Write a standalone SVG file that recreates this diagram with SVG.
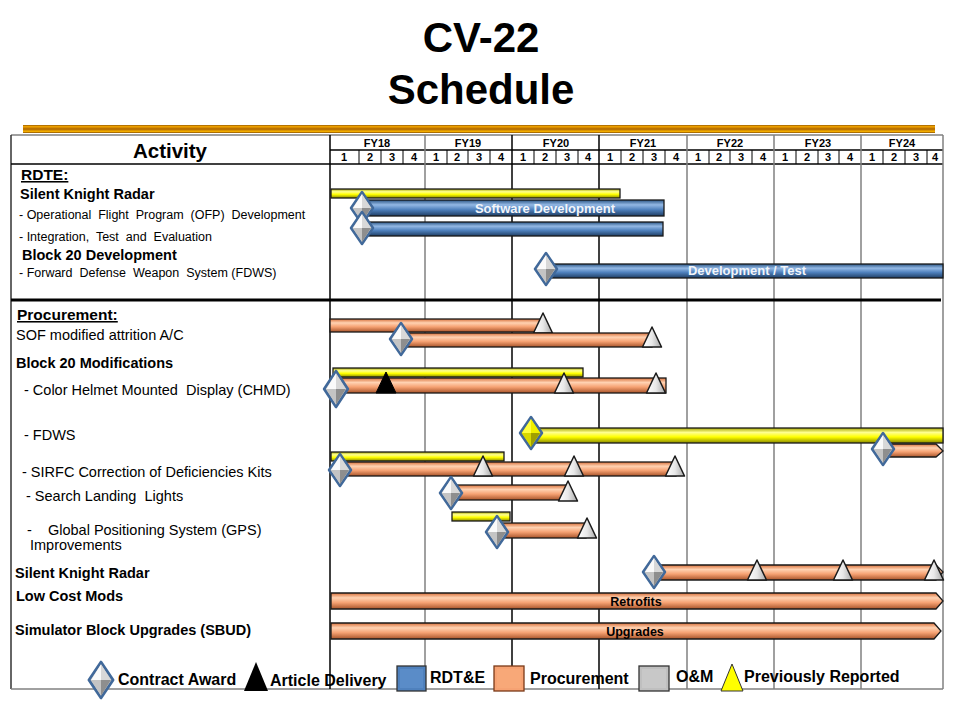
<svg xmlns="http://www.w3.org/2000/svg" xmlns:xlink="http://www.w3.org/1999/xlink" width="960" height="720" viewBox="0 0 960 720">
<style>
text{font-family:"Liberation Sans",Arial,sans-serif;fill:#000}
.title{font-size:42px;font-weight:bold;text-anchor:middle}
.hdr{font-size:11px;font-weight:bold;text-anchor:middle}
.act{font-size:20.5px;font-weight:bold;text-anchor:middle}
.sec{font-size:15.5px;font-weight:bold;text-decoration:underline}
.b{font-size:14.5px;font-weight:bold}
.r{font-size:12.5px;white-space:pre}
.p{font-size:14.5px;white-space:pre}
.bw{font-size:13px;font-weight:bold;fill:#F2F5FA;text-anchor:middle}
.bk{font-size:12.5px;font-weight:bold;text-anchor:middle}
.lg{font-size:16px;font-weight:bold}
.gl{stroke:#808080;stroke-width:1.5}
.gk{stroke:#000;stroke-width:1.5}
.bar{stroke:#1a1a1a;stroke-width:1.3}
.o{fill:url(#gO)}
.bl{fill:url(#gB)}
.y{fill:url(#gY)}
</style>
<defs>
<linearGradient id="gold" x1="0" y1="0" x2="0" y2="1">
<stop offset="0" stop-color="#9A5C00"/><stop offset="0.2" stop-color="#F2A400"/><stop offset="0.45" stop-color="#B87000"/><stop offset="0.55" stop-color="#B87000"/><stop offset="0.8" stop-color="#F8B200"/><stop offset="1" stop-color="#8A5000"/>
</linearGradient>
<linearGradient id="gO" x1="0" y1="0" x2="0" y2="1">
<stop offset="0" stop-color="#D8703A"/><stop offset="0.3" stop-color="#FFD2B2"/><stop offset="0.6" stop-color="#F6A273"/><stop offset="1" stop-color="#A8542A"/>
</linearGradient>
<linearGradient id="gB" x1="0" y1="0" x2="0" y2="1">
<stop offset="0" stop-color="#2B5686"/><stop offset="0.3" stop-color="#93B8E4"/><stop offset="0.6" stop-color="#4F81BD"/><stop offset="1" stop-color="#1F3E64"/>
</linearGradient>
<linearGradient id="gY" x1="0" y1="0" x2="0" y2="1">
<stop offset="0" stop-color="#A8A800"/><stop offset="0.3" stop-color="#FFFF90"/><stop offset="0.6" stop-color="#FFFF00"/><stop offset="1" stop-color="#8A8A00"/>
</linearGradient>
<linearGradient id="gT" x1="0" y1="0" x2="1" y2="0">
<stop offset="0" stop-color="#FFFFFF"/><stop offset="0.5" stop-color="#E8E8E8"/><stop offset="1" stop-color="#A8A8A8"/>
</linearGradient>
<g id="dia">
<polygon points="0,-16 11,0 0,16 -11,0" fill="#C8C8C8" stroke="#41699A" stroke-width="2.5" stroke-linejoin="round"/>
<polygon points="0,-14 -9,0 0,0" fill="#FAFAFA"/>
<polygon points="0,-14 9,0 0,0" fill="#D8D8D8"/>
<polygon points="0,14 -9,0 0,0" fill="#C4C4C4"/>
<polygon points="0,14 9,0 0,0" fill="#8E8E8E"/>
</g>
<g id="diaY">
<polygon points="0,-16 11,0 0,16 -11,0" fill="#E0E000" stroke="#41699A" stroke-width="2.5" stroke-linejoin="round"/>
<polygon points="0,-14 -9,0 0,0" fill="#FFFF40"/>
<polygon points="0,-14 9,0 0,0" fill="#F0F000"/>
<polygon points="0,14 -9,0 0,0" fill="#D8D800"/>
<polygon points="0,14 9,0 0,0" fill="#A0A000"/>
</g>
<polygon id="tri" points="0,-20 9.5,0 -9.5,0" fill="url(#gT)" stroke="#1a1a1a" stroke-width="1.5" stroke-linejoin="round"/>
<polygon id="triK" points="0,-21 10,0 -10,0" fill="#000" stroke="#000" stroke-width="1"/>
</defs>

<rect width="960" height="720" fill="#FFFFFF"/>

<g id="title">
<text class="title" x="481" y="52">CV-22</text>
<text class="title" x="481" y="104">Schedule</text>
<rect x="23" y="125" width="912" height="8" fill="url(#gold)"/>
</g>

<g id="grid">
<line x1="11" y1="135" x2="943" y2="135" class="gl"/>
<line x1="11" y1="135" x2="11" y2="689" stroke="#333" stroke-width="1.5"/>
<line x1="11" y1="689" x2="943" y2="689" class="gl"/>
<line x1="330" y1="150" x2="943" y2="150" class="gk"/>
<line x1="11" y1="164" x2="943" y2="164" class="gk"/>
<line x1="330" y1="135" x2="330" y2="689" class="gk"/>
<line x1="425" y1="135" x2="425" y2="689" class="gl"/>
<line x1="512" y1="135" x2="512" y2="689" class="gk"/>
<line x1="599" y1="135" x2="599" y2="689" class="gk"/>
<line x1="687" y1="135" x2="687" y2="689" class="gl"/>
<line x1="774" y1="135" x2="774" y2="689" class="gl"/>
<line x1="861" y1="135" x2="861" y2="689" class="gl"/>
<line x1="943" y1="135" x2="943" y2="689" class="gl"/>
<g stroke="#000" stroke-width="1">
<line x1="359" y1="150" x2="359" y2="164"/><line x1="381" y1="150" x2="381" y2="164"/><line x1="403" y1="150" x2="403" y2="164"/>
<line x1="447" y1="150" x2="447" y2="164"/><line x1="468" y1="150" x2="468" y2="164"/><line x1="490" y1="150" x2="490" y2="164"/>
<line x1="534" y1="150" x2="534" y2="164"/><line x1="556" y1="150" x2="556" y2="164"/><line x1="578" y1="150" x2="578" y2="164"/>
<line x1="621" y1="150" x2="621" y2="164"/><line x1="643" y1="150" x2="643" y2="164"/><line x1="665" y1="150" x2="665" y2="164"/>
<line x1="709" y1="150" x2="709" y2="164"/><line x1="730" y1="150" x2="730" y2="164"/><line x1="752" y1="150" x2="752" y2="164"/>
<line x1="796" y1="150" x2="796" y2="164"/><line x1="818" y1="150" x2="818" y2="164"/><line x1="839" y1="150" x2="839" y2="164"/>
<line x1="883" y1="150" x2="883" y2="164"/><line x1="905" y1="150" x2="905" y2="164"/><line x1="927" y1="150" x2="927" y2="164"/>
</g>
<line x1="11" y1="300" x2="941" y2="300" stroke="#000" stroke-width="3"/>
</g>

<g id="header">
<text class="act" x="170" y="158">Activity</text>
<text class="hdr" x="377" y="147">FY18</text>
<text class="hdr" x="468" y="147">FY19</text>
<text class="hdr" x="556" y="147">FY20</text>
<text class="hdr" x="643" y="147">FY21</text>
<text class="hdr" x="730" y="147">FY22</text>
<text class="hdr" x="818" y="147">FY23</text>
<text class="hdr" x="902" y="147">FY24</text>
<text class="hdr" x="344" y="161">1</text><text class="hdr" x="370" y="161">2</text><text class="hdr" x="392" y="161">3</text><text class="hdr" x="414" y="161">4</text>
<text class="hdr" x="436" y="161">1</text><text class="hdr" x="457" y="161">2</text><text class="hdr" x="479" y="161">3</text><text class="hdr" x="501" y="161">4</text>
<text class="hdr" x="523" y="161">1</text><text class="hdr" x="545" y="161">2</text><text class="hdr" x="567" y="161">3</text><text class="hdr" x="588" y="161">4</text>
<text class="hdr" x="610" y="161">1</text><text class="hdr" x="632" y="161">2</text><text class="hdr" x="654" y="161">3</text><text class="hdr" x="676" y="161">4</text>
<text class="hdr" x="698" y="161">1</text><text class="hdr" x="719" y="161">2</text><text class="hdr" x="741" y="161">3</text><text class="hdr" x="763" y="161">4</text>
<text class="hdr" x="785" y="161">1</text><text class="hdr" x="807" y="161">2</text><text class="hdr" x="828" y="161">3</text><text class="hdr" x="850" y="161">4</text>
<text class="hdr" x="872" y="161">1</text><text class="hdr" x="894" y="161">2</text><text class="hdr" x="916" y="161">3</text><text class="hdr" x="935" y="161">4</text>
</g>

<g id="labels">
<text class="sec" x="21" y="180">RDTE:</text>
<text class="b" x="20" y="199">Silent Knight Radar</text>
<text class="r" x="19" y="219" xml:space="preserve">- Operational  Flight  Program  (OFP)  Development</text>
<text class="r" x="19" y="241" xml:space="preserve">- Integration,  Test  and  Evaluation</text>
<text class="b" x="22" y="260">Block 20 Development</text>
<text class="r" x="19" y="277" xml:space="preserve">- Forward  Defense  Weapon  System (FDWS)</text>
<text class="sec" x="17" y="320">Procurement:</text>
<text class="p" x="16" y="340">SOF modified attrition A/C</text>
<text class="b" x="16" y="368">Block 20 Modifications</text>
<text class="p" x="24" y="395" xml:space="preserve">- Color Helmet Mounted  Display (CHMD)</text>
<text class="p" x="24" y="440">- FDWS</text>
<text class="p" x="22" y="477">- SIRFC Correction of Deficiencies Kits</text>
<text class="p" x="26" y="501" xml:space="preserve">- Search Landing  Lights</text>
<text class="p" x="27" y="535" xml:space="preserve">-    Global Positioning System (GPS)</text>
<text class="p" x="30" y="550">Improvements</text>
<text class="b" x="15" y="578">Silent Knight Radar</text>
<text class="b" x="16" y="601">Low Cost Mods</text>
<text class="b" x="15" y="635">Simulator Block Upgrades (SBUD)</text>
</g>

<g id="rdte-skr">
<rect class="bar y" x="331" y="189" width="289" height="9"/>
<rect class="bar bl" x="362" y="200" width="302" height="16"/>
<text class="bw" x="545" y="213">Software Development</text>
<use xlink:href="#dia" x="362" y="208"/>
<rect class="bar bl" x="362" y="222" width="301" height="14"/>
<use xlink:href="#dia" x="362" y="228"/>
</g>

<g id="rdte-fdws">
<rect class="bar bl" x="545" y="264" width="398" height="14"/>
<text class="bw" x="747" y="275">Development / Test</text>
<use xlink:href="#dia" x="546" y="269"/>
</g>

<g id="sof">
<rect class="bar o" x="330" y="319" width="213" height="13"/>
<use xlink:href="#tri" x="543" y="333"/>
<rect class="bar o" x="401" y="333" width="251" height="14"/>
<use xlink:href="#dia" x="401" y="339"/>
<use xlink:href="#tri" x="652" y="347"/>
</g>

<g id="chmd">
<rect class="bar y" x="333" y="368" width="250" height="9"/>
<rect class="bar o" x="336" y="378" width="330" height="15"/>
<use xlink:href="#triK" x="386" y="393"/>
<use xlink:href="#tri" x="564" y="393"/>
<use xlink:href="#tri" x="656" y="393"/>
<use xlink:href="#dia" x="336" y="389" transform="translate(336 389) scale(1.08 1.12) translate(-336 -389)"/>
</g>

<g id="fdws">
<rect class="bar y" x="530" y="428" width="413" height="15"/>
<use xlink:href="#diaY" x="531" y="433"/>
<polygon class="bar o" points="882,444 936,444 943,451 936,457 882,457"/>
<use xlink:href="#dia" x="883" y="449"/>
</g>

<g id="sirfc">
<rect class="bar y" x="331" y="452" width="173" height="9"/>
<rect class="bar o" x="340" y="462" width="336" height="14"/>
<use xlink:href="#tri" x="483" y="476"/>
<use xlink:href="#tri" x="574" y="476"/>
<use xlink:href="#tri" x="675" y="476"/>
<use xlink:href="#dia" x="340" y="470"/>
</g>

<g id="sll">
<rect class="bar o" x="452" y="485" width="116" height="15"/>
<use xlink:href="#tri" x="568" y="501"/>
<use xlink:href="#dia" x="451" y="493"/>
</g>

<g id="gps">
<rect class="bar y" x="452" y="512" width="58" height="9"/>
<rect class="bar o" x="497" y="523" width="89" height="15"/>
<use xlink:href="#tri" x="587" y="538"/>
<use xlink:href="#dia" x="497" y="532"/>
</g>

<g id="proc-skr">
<polygon class="bar o" points="655,565 936,565 943,572 936,580 655,580"/>
<use xlink:href="#tri" x="757" y="580"/>
<use xlink:href="#tri" x="843" y="580"/>
<use xlink:href="#tri" x="934" y="580"/>
<use xlink:href="#dia" x="654" y="572"/>
</g>

<g id="lcm">
<polygon class="bar o" points="331,593 936,593 943,601 936,609 331,609"/>
<text class="bk" x="636" y="606">Retrofits</text>
</g>

<g id="sbud">
<polygon class="bar o" points="331,623 934,623 941,631 934,639 331,639"/>
<text class="bk" x="635" y="636">Upgrades</text>
</g>

<g id="connectors"/>

<g id="legend">
<use xlink:href="#dia" x="101" y="680" transform="translate(101 680) scale(1.1 1.12) translate(-101 -680)"/>
<text class="lg" x="118" y="685">Contract Award</text>
<polygon points="256,662 268,691 244,691" fill="#000"/>
<text class="lg" x="270" y="686">Article Delivery</text>
<rect x="397" y="666" width="29" height="25" fill="#4F81BD" stroke="#333" stroke-width="1.3"/>
<rect x="400" y="669" width="23" height="19" fill="#5A8CC8"/>
<text class="lg" x="430" y="683">RDT&amp;E</text>
<rect x="494" y="666" width="30" height="25" fill="#F6A273" stroke="#7A3A18" stroke-width="1.3"/>
<rect x="497" y="669" width="24" height="19" fill="#F8A878"/>
<text class="lg" x="530" y="684">Procurement</text>
<rect x="639" y="666" width="30" height="25" fill="#BFBFBF" stroke="#333" stroke-width="1.3"/>
<rect x="642" y="669" width="24" height="19" fill="#C8C8C8"/>
<text class="lg" x="676" y="682">O&amp;M</text>
<polygon points="732,664 743,691 721,691" fill="#FFFF00" stroke="#333" stroke-width="1"/>
<text class="lg" x="744" y="682">Previously Reported</text>
</g>
</svg>
